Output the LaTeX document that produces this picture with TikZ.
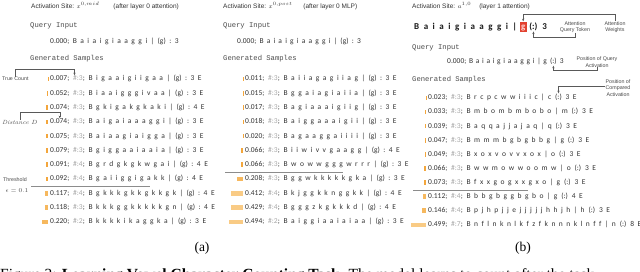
\documentclass[tikz,border=0pt]{standalone}
\usepackage{fontspec}
\setmonofont{Liberation Mono}
\newfontfamily\carl{Carlito}
\newfontfamily\lsans{Liberation Sans}
\newfontfamily\tms{Liberation Serif}
\usetikzlibrary{arrows.meta,calc}
\definecolor{txt}{HTML}{333333}
\definecolor{cntg}{HTML}{A8A8A8}
\definecolor{barA}{HTML}{F3A63C}
\definecolor{barM}{HTML}{F6B85E}
\definecolor{barB}{HTML}{F9CB85}
\definecolor{lbl}{HTML}{4A4A4A}
\definecolor{redg}{HTML}{E2412F}
\definecolor{ln}{HTML}{8C8C8C}
\newlength\myspw
\def\spaced#1{\spacedi#1 \endsp}
\def\spacedi#1 #2\endsp{#1\ifx\relax#2\relax\else\kern\myspw\spacedi#2\endsp\fi}
\newcommand\wsp[2]{{\myspw=#1\relax\spaced{#2}}}
\tikzset{
 smp/.style={inner sep=0pt, anchor=west, text=txt, font=\carl\fontsize{7.5}{8.5}\selectfont, text height=5.4pt, text depth=1.6pt},
 boldq/.style={inner sep=0pt, anchor=west, text=black!90, font=\carl\bfseries\fontsize{9}{10}\selectfont, text height=6.5pt, text depth=2pt},
 redbox/.style={boldq, fill=redg, text=red!15!white, inner sep=1.2pt},
 site/.style={inner sep=0pt, anchor=west, text=black!80, font=\lsans\fontsize{6.5}{7.5}\selectfont},
 mono/.style={inner sep=0pt, anchor=west, text=black!70, font=\ttfamily\fontsize{7.2}{8}\selectfont},
 lab/.style={inner sep=0pt, text=lbl, font=\lsans\fontsize{5.3}{6.6}\selectfont, align=center},
 conn/.style={draw=black!65, line width=0.45pt, -{Stealth[length=2.6pt,width=2.2pt]}},
 thr/.style={draw=ln, line width=0.7pt},
 sub/.style={inner sep=0pt, font=\tms\fontsize{13.5}{15}\selectfont},
}
\newcommand\samp[7]{%
  \node[smp] (#1n) at (#2,#3) {#4;};
  \node[smp] (#1c) at ([xshift=3.5pt]#1n.east) {\textcolor{cntg}{\#:#5};};
  \node[smp] (#1s) at ([xshift=3.5pt]#1c.east) {\wsp{3.5pt}{#6}};
  \fill[#7] ([xshift=-1.6pt,yshift=2.3pt]#1n.west) rectangle ([xshift={-1.6pt-30pt*#4},yshift=-2.3pt]#1n.west);
}
\newcommand\sampb[8]{%
  \node[smp] (#1n) at (#2,#3) {#4;};
  \node[smp] (#1c) at ([xshift=3.5pt]#1n.east) {\textcolor{cntg}{\#:#5};};
  \node[smp] (#1s) at ([xshift=3.5pt]#1c.east) {\wsp{3.5pt}{#6}};
  \node[smp] (#1q) at ([xshift=3.5pt]#1s.east) {(:)};
  \node[smp] (#1e) at ([xshift=3.5pt]#1q.east) {\wsp{3.5pt}{#7}};
  \fill[#8] ([xshift=-1.6pt,yshift=2.3pt]#1n.west) rectangle ([xshift={-1.6pt-30pt*#4},yshift=-2.3pt]#1n.west);
}
\begin{document}
\begin{tikzpicture}[x=1pt,y=-1pt]
\useasboundingbox[fill=white] (0,0) rectangle (640,272);
% ---------- panel (a)
\node[site] (sa) at (31,6) {Activation Site: $x^{0,mid}$\hspace{14pt}(after layer 0 attention)};
\node[mono] (qia) at (30,26) {Query Input};
\node[smp] (qa) at (50,41.5) {\wsp{3.5pt}{0.000; B a i a i g i a a g g i | (g) : 3}};
\node[mono] (gsa) at (30,59) {Generated Samples};
\samp{a1}{50}{79}{0.007}{3}{B i g a a i g i i g a a | (g) : 3 E}{barA}
\samp{a2}{50}{93.3}{0.052}{3}{B i a a i g g g i v a a | (g) : 3 E}{barA}
\samp{a3}{50}{107.6}{0.074}{3}{B g k i g a k g k a k i | (g) : 4 E}{barA}
\samp{a4}{50}{121.9}{0.074}{3}{B a i g a i a a a g g i | (g) : 3 E}{barA}
\samp{a5}{50}{136.2}{0.075}{3}{B a i a a g i a i g g a | (g) : 3 E}{barA}
\samp{a6}{50}{150.5}{0.079}{3}{B g i g g a a i a a i a | (g) : 3 E}{barA}
\samp{a7}{50}{164.8}{0.091}{4}{B g r d g k g k w g a i | (g) : 4 E}{barA}
\samp{a8}{50}{179.1}{0.092}{4}{B g a i i g g i g a k k | (g) : 4 E}{barA}
\samp{a9}{50}{193.4}{0.117}{4}{B g k k k g k k g k k g k | (g) : 4 E}{barM}
\samp{a10}{50}{207.7}{0.118}{3}{B k k k g g k k k k k g n | (g) : 4 E}{barM}
\samp{a11}{50}{222}{0.220}{2}{B k k k k i k a g g k a | (g) : 3 E}{barM}
\node[lab, anchor=west] (tc) at (2,79) {True Count};
\node[inner sep=0pt, anchor=west, text=lbl, font=\fontsize{6}{7}\selectfont\itshape] (dd) at (2,122) {Distance $D$};
\node[lab, anchor=west] (th) at (3,180) {Threshold};
\node[inner sep=0pt, text=lbl, font=\fontsize{6.5}{7}\selectfont] (eps) at (17,191) {$\epsilon = 0.1$};
\draw[conn] (tc.north) |- ([xshift=1.5pt,yshift=6pt]a1c.north west) -- ([xshift=1.5pt]a1c.north west);
\draw[conn] (dd.north) |- ([yshift=6pt]a4n.north) -- (a4n.north);
\coordinate (ta) at (31,186);
\coordinate (tb) at (150,186);
\draw[thr] (ta) -- (tb);
\node[sub] (suba) at (202,248) {(a)};
% ---------- middle panel
\node[site] (sm) at (223,6) {Activation Site: $x^{0,post}$\hspace{11pt}(after layer 0 MLP)};
\node[mono] (qim) at (223,26) {Query Input};
\node[smp] (qm) at (237,41.5) {\wsp{3.2pt}{0.000; B a i a i g i a a g g i | (g) : 3}};
\node[mono] (gsm) at (223,59) {Generated Samples};
\samp{m1}{245}{79}{0.011}{3}{B a i i a g a g i i a g | (g) : 3 E}{barA}
\samp{m2}{245}{93.3}{0.015}{3}{B g g a i a g i a i i a | (g) : 3 E}{barA}
\samp{m3}{245}{107.6}{0.017}{3}{B a g i a a a i g i i g | (g) : 3 E}{barA}
\samp{m4}{245}{121.9}{0.018}{3}{B a i g g a a a i g i i | (g) : 3 E}{barA}
\samp{m5}{245}{136.2}{0.020}{3}{B a g a a g g a i i i i | (g) : 3 E}{barA}
\samp{m6}{245}{150.5}{0.066}{3}{B i i w i v v g a a g g | (g) : 4 E}{barA}
\samp{m7}{245}{164.8}{0.066}{3}{B w o w w g g g w r r r | (g) : 3 E}{barA}
\samp{m8}{245}{179.1}{0.208}{3}{B g g w k k k k k g k a | (g) : 3 E}{barM}
\samp{m9}{245}{193.4}{0.412}{4}{B k j g g k k n g g k k | (g) : 4 E}{barB}
\samp{m10}{245}{207.7}{0.429}{4}{B g g g z k g k k k d | (g) : 4 E}{barB}
\samp{m11}{245}{222}{0.494}{2}{B a i g g i a a i a i a a | (g) : 3 E}{barB}
\coordinate (tma) at (225,172);
\coordinate (tmb) at (343,172);
\draw[thr] (tma) -- (tmb);
% ---------- panel (b)
\node[site] (sb) at (412,6) {Activation Site: $a^{1,0}$\hspace{8pt}(layer 1 attention)};
\node[boldq] (bq1) at (414,27) {\wsp{4.5pt}{B a i a i g i a a g g i |}};
\node[redbox, anchor=west] (bqg) at ([xshift=2.5pt]bq1.east) {g};
\node[boldq] (bqc) at ([xshift=2.5pt]bqg.east) {(:)};
\node[boldq] (bq3) at ([xshift=4.5pt]bqc.east) {3};
\node[lab] (aqt) at (575,27) {Attention\\Query Token};
\node[lab] (aw) at (615,27) {Attention\\Weights};
\draw[conn] (aw.north) |- ([yshift=7pt]bqg.north) -- (bqg.north);
\draw[conn] (aqt.south) |- ([yshift=-6pt]bqc.south) -- (bqc.south);
\node[mono] (qib) at (412,48) {Query Input};
\node[smp] (qb1) at (447,62) {\wsp{2.7pt}{0.000; B a i a i g i a a g g i | g}};
\node[smp] (qbq) at ([xshift=2.7pt]qb1.east) {(:)};
\node[smp] (qb3) at ([xshift=2.7pt]qbq.east) {3};
\node[lab] (pqa) at (597,62) {Position of Query\\Activation};
\draw[conn] (pqa.south) |- ([yshift=-5pt]qbq.south) -- (qbq.south);
\node[mono] (gsb) at (412,80) {Generated Samples};
\node[lab] (pca) at (618,88) {Position of\\Compared\\Activation};
\sampb{b1}{428}{98}{0.023}{3}{B r c p c w w i i i c | c}{3 E}{barA}
\sampb{b2}{428}{112.1}{0.033}{3}{B m b o m b m b o b o | m}{3 E}{barA}
\sampb{b3}{428}{126.2}{0.039}{3}{B a q q a j j a j a q | q}{3 E}{barA}
\sampb{b4}{428}{140.3}{0.047}{3}{B m m m b g b g b b g | g}{3 E}{barA}
\sampb{b5}{428}{154.4}{0.049}{3}{B x o x v o v v x o x | o}{3 E}{barA}
\sampb{b6}{428}{168.5}{0.066}{3}{B w w m o w w o o m w | o}{3 E}{barA}
\sampb{b7}{428}{182.6}{0.073}{3}{B f x x g o g x x g x o | g}{3 E}{barA}
\sampb{b8}{428}{196.7}{0.112}{4}{B b b g b g g b g b o | g}{4 E}{barM}
\sampb{b9}{428}{210.8}{0.146}{4}{B p j h p j j e j j j j j h h j h | h}{3 E}{barM}
\sampb{b10}{428}{224.9}{0.499}{7}{B n f l n k n l k f z f k n n n k l n f f | n}{8 E}{barB}
\draw[conn, shorten >=1pt] ([yshift=2pt]pca.west) -| (b1q.north);
\coordinate (tba) at (413,190);
\coordinate (tbb) at (528,190);
\draw[thr] (tba) -- (tbb);
\node[sub] (subb) at (523,248) {(b)};
% ---------- caption (cut by the lower edge)
\node[anchor=base west, inner sep=0pt, font=\tms\fontsize{15.5}{17}\selectfont] (cap) at (0,280) {Figure 3: \textbf{Learning Vowel Character Counting Task.} The model learns to count after the task};
\end{tikzpicture}
\end{document}
